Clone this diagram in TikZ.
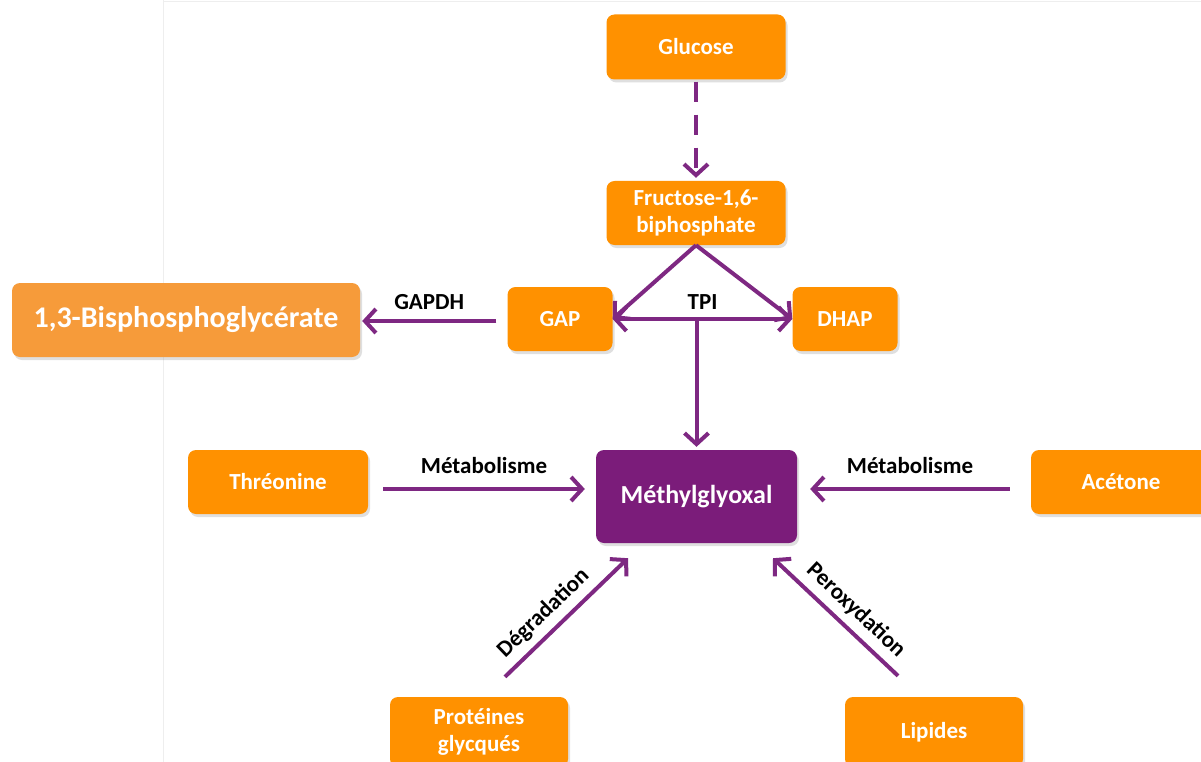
\documentclass[tikz,border=0pt]{standalone}
\usepackage{fontspec}
\setmainfont{Carlito}
\usetikzlibrary{arrows.meta,shadows,calc}
\definecolor{orng}{RGB}{255,145,0}
\definecolor{orngB}{RGB}{246,155,58}
\definecolor{purp}{RGB}{123,28,122}
\definecolor{arrc}{RGB}{126,40,130}
\definecolor{faint}{RGB}{238,238,238}
\begin{document}
\begin{tikzpicture}[x=1pt,y=-1pt,
  box/.style={fill=orng, rounded corners=8pt, text=white,
    font=\fontsize{23}{27}\selectfont\bfseries, align=center, inner sep=0pt,
    drop shadow={opacity=0.25, shadow xshift=2pt, shadow yshift=-3pt}},
  arr/.style={draw=arrc, line width=4pt, -{Straight Barb[length=11pt,width=24pt]}},
  lab/.style={font=\fontsize{23}{27}\selectfont\bfseries, text=black, inner sep=2pt}]
\useasboundingbox (0,0) rectangle (1201,762);
\fill[white] (0,0) rectangle (1201,762);
\draw[faint, line width=1pt] (163,0) -- (163,762);
\draw[faint, line width=1pt] (163,1.5) -- (1201,1.5);

% nodes
\node[box, minimum width=179pt, minimum height=65pt] (glu) at (696,47) {Glucose};
\node[box, minimum width=179pt, minimum height=64pt] (fru) at (696,213) {Fructose-1,6-\\biphosphate};
\node[box, minimum width=105pt, minimum height=64pt] (gap) at (560,319) {GAP};
\node[box, minimum width=105pt, minimum height=64pt] (dhap) at (845,319) {DHAP};
\node[box, fill=orngB, minimum width=348pt, minimum height=74pt,
  font=\fontsize{30}{35}\selectfont\bfseries] (bis) at (186,320) {1,3-Bisphosphoglycérate};
\node[box, fill=purp, minimum width=201pt, minimum height=93pt,
  font=\fontsize{26}{31}\selectfont\bfseries] (meth) at (696.5,496.5) {Méthylglyoxal};
\node[box, minimum width=180pt, minimum height=64pt] (thr) at (278,482) {Thréonine};
\node[box, minimum width=180pt, minimum height=64pt] (ace) at (1121,482) {Acétone};
\node[box, minimum width=178pt, minimum height=70pt] (pro) at (479,732) {Protéines\\glycqués};
\node[box, minimum width=178pt, minimum height=70pt] (lip) at (934,732) {Lipides};

% connectors
\draw[arr, dash pattern=on 20pt off 13pt] ([yshift=-2pt]glu.south) -- ([yshift=3pt]fru.north);
\draw[arr] (fru.south) -- (gap.east);
\draw[arr] (fru.south) -- (dhap.west);
\draw[draw=arrc, line width=4pt, {Straight Barb[length=11pt,width=24pt]}-{Straight Barb[length=11pt,width=24pt]}]
  (gap.east) -- (dhap.west) node[lab, midway, above=6pt] {TPI};
\draw[arr] (meth.north |- gap.east) -- ([yshift=3pt]meth.north);
\draw[arr] ([xshift=-11pt,yshift=-2pt]gap.west) -- ([xshift=2pt,yshift=-1pt]bis.east)
  node[lab, midway, above=7pt] {GAPDH};
\draw[arr] ([xshift=15pt,yshift=-7pt]thr.east) -- ([xshift=-11pt,yshift=7.5pt]meth.west)
  node[lab, midway, above=11pt] {Métabolisme};
\draw[arr] ([xshift=-21pt,yshift=-7pt]ace.west) -- ([xshift=13pt,yshift=7.5pt]meth.east)
  node[lab, midway, above=11pt] {Métabolisme};
\draw[arr] ([xshift=26pt,yshift=20pt]pro.north) -- ([xshift=-68.5pt,yshift=-15pt]meth.south)
  node[lab, pos=0.42, sloped, above=5pt] {Dégradation};
\draw[arr] ([xshift=-36pt,yshift=21pt]lip.north) -- ([xshift=76.5pt,yshift=-15pt]meth.south)
  node[lab, pos=0.44, sloped, above=5pt] {Peroxydation};
\end{tikzpicture}
\end{document}
